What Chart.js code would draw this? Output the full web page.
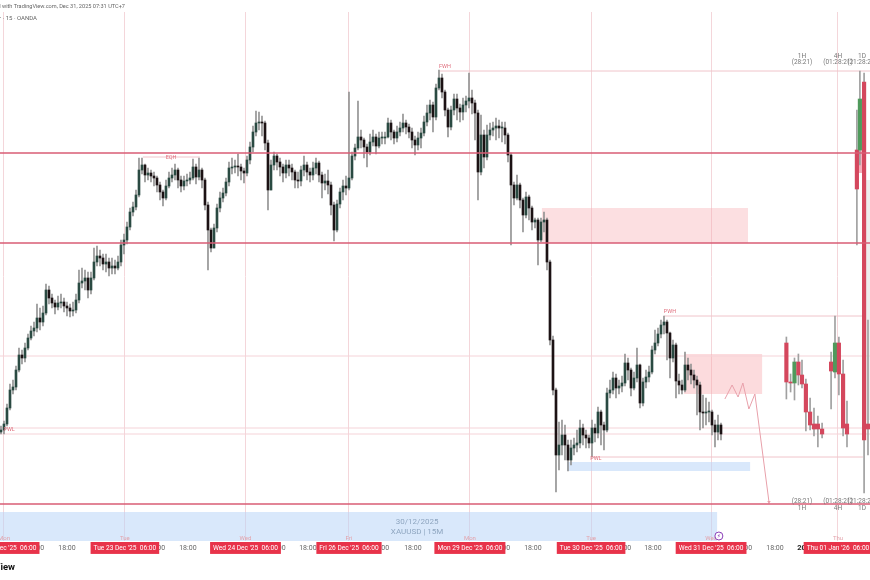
<!DOCTYPE html>
<html>
<head>
<meta charset="utf-8">
<title>XAUUSD 15M</title>
<script src="https://cdn.jsdelivr.net/npm/chart.js@4"></script>
<style>
  html, body { margin: 0; background: #fff; overflow: hidden; }
  #wrap { position: relative; width: 870px; height: 580px; overflow: hidden; font-family: Roboto, sans-serif; }
  #wrap canvas { filter: blur(0.45px); }
  .chrome { position: absolute; white-space: nowrap; color: #666; font-size: 5.6px; line-height: 10px; }
  #c1 { right: 745px; top: 1px; }
  #c2 { right: 833px; top: 13px; font-size: 6px; }
  #c3 { right: 855px; top: 560px; font-size: 9.5px; line-height: 14px; font-weight: 700; color: #111; }
</style>
</head>
<body>
<div id="wrap">
  <canvas id="chart" width="870" height="580"></canvas>
  <div class="chrome" id="c1">Created with TradingView.com, Dec 31, 2025 07:31 UTC+7</div>
  <div class="chrome" id="c2">Gold Spot / U.S. Dollar · 15 · OANDA</div>
  <div class="chrome" id="c3">TradingView</div>
</div>
<script>
// ── 15M candles, one slot per candle (open = previous close)
const closes = [
  4190,4196,4212,4230,4233,4250,4265,4262,4272,4282,4289,4292,4302,4298,4307,4330,4322,4317,4313,4317,
  4318,4314,4312,4309,4310,4320,4337,4339,4342,4330,4342,4358,4364,4362,4356,4358,4352,4354,4352,4358,
  4375,4380,4393,4408,4413,4425,4450,4455,4445,4447,4444,4442,4435,4428,4422,4434,4442,4445,4450,4440,
  4434,4439,4440,4442,4453,4443,4450,4440,4415,4390,4372,4392,4412,4422,4427,4438,4452,4453,4454,4453,
  4449,4447,4460,4473,4488,4497,4498,4497,4477,4430,4455,4464,4458,4453,4447,4455,4452,4448,4440,4439,
  4450,4455,4448,4445,4452,4457,4445,4437,4439,4435,4415,4390,4416,4428,4434,4432,4442,4464,4472,4483,
  4480,4473,4468,4478,4483,4474,4482,4482,4483,4497,4488,4482,4488,4492,4497,4493,4488,4480,4475,4482,
  4487,4498,4507,4515,4503,4532,4542,4528,4510,4493,4510,4521,4512,4508,4515,4519,4522,4517,4507,4448,
  4485,4463,4485,4490,4492,4494,4492,4492,4485,4465,4435,4422,4435,4420,4405,4423,4412,4398,4400,4380,
  4398,4400,4358,4280,4230,4165,4175,4185,4175,4160,4172,4175,4177,4192,4185,4182,4177,4192,4187,4208,
  4195,4190,4227,4230,4242,4232,4234,4237,4257,4250,4232,4242,4255,4217,4238,4243,4248,4270,4277,4286,
  4295,4298,4287,4262,4275,4239,4235,4230,4255,4250,4245,4240,4235,4208,4207,4208,4208,4195,4188,4195,
  4186
];
const highs = [
  4194,4199,4216,4236,4240,4254,4272,4270,4277,4286,4294,4298,4316,4312,4314,4336,4334,4326,4320,4324,
  4326,4322,4318,4316,4318,4326,4350,4352,4350,4348,4348,4372,4374,4370,4366,4366,4362,4362,4360,4364,
  4380,4386,4398,4412,4418,4430,4462,4462,4456,4452,4450,4448,4444,4438,4430,4440,4448,4452,4456,4452,
  4444,4444,4446,4448,4461,4456,4462,4452,4442,4418,4392,4396,4416,4428,4432,4442,4458,4462,4460,4466,
  4456,4452,4464,4478,4494,4509,4508,4504,4499,4480,4460,4468,4466,4462,4456,4460,4460,4456,4450,4448,
  4454,4464,4458,4452,4458,4462,4459,4448,4446,4450,4438,4418,4420,4432,4440,4444,4528,4468,4476,4519,
  4490,4482,4476,4486,4490,4486,4488,4488,4488,4502,4500,4490,4494,4498,4506,4500,4496,4492,4484,4488,
  4492,4504,4515,4520,4518,4536,4550,4546,4530,4512,4514,4526,4526,4516,4522,4524,4547,4530,4520,4510,
  4505,4490,4495,4497,4498,4502,4500,4498,4498,4487,4467,4438,4445,4437,4422,4428,4425,4414,4402,4402,
  4402,4408,4402,4360,4284,4232,4198,4200,4195,4180,4180,4182,4190,4200,4196,4190,4185,4200,4196,4213,
  4210,4198,4232,4240,4248,4246,4240,4244,4266,4262,4252,4248,4272,4256,4242,4250,4254,4274,4290,4292,
  4300,4304,4300,4288,4280,4277,4246,4240,4268,4262,4256,4250,4244,4238,4225,4222,4218,4210,4200,4205,
  4197
];
const lows = [
  4186,4186,4194,4210,4226,4230,4248,4256,4258,4270,4280,4284,4288,4290,4294,4305,4316,4312,4306,4310,
  4312,4308,4304,4303,4304,4307,4317,4332,4330,4322,4326,4340,4354,4354,4350,4348,4344,4346,4346,4350,
  4354,4366,4376,4390,4404,4410,4423,4446,4438,4440,4438,4434,4428,4420,4414,4420,4432,4438,4440,4432,
  4428,4430,4434,4436,4440,4436,4440,4432,4410,4350,4368,4372,4388,4408,4418,4424,4434,4446,4447,4444,
  4440,4437,4444,4456,4468,4484,4490,4484,4470,4410,4430,4450,4450,4444,4438,4442,4444,4440,4432,4432,
  4434,4444,4440,4438,4440,4446,4438,4422,4430,4426,4405,4379,4388,4412,4420,4425,4430,4440,4460,4470,
  4472,4462,4453,4465,4474,4466,4472,4476,4476,4482,4480,4476,4478,4484,4488,4486,4482,4472,4465,4470,
  4472,4484,4494,4500,4488,4500,4530,4522,4504,4483,4490,4505,4500,4498,4500,4508,4512,4506,4480,4420,
  4445,4452,4460,4480,4484,4480,4482,4478,4476,4458,4375,4415,4420,4412,4388,4402,4400,4390,4392,4355,
  4378,4388,4350,4275,4225,4128,4150,4165,4160,4149,4155,4165,4168,4172,4175,4172,4172,4163,4178,4182,
  4175,4170,4188,4222,4226,4222,4226,4228,4234,4240,4224,4230,4238,4212,4214,4232,4238,4246,4266,4274,
  4282,4286,4260,4242,4258,4222,4226,4226,4228,4240,4236,4232,4205,4190,4192,4195,4198,4185,4173,4180,
  4180
];

// ── 1H / 4H / 1D candles on the right
const htfSlots  = [261.8,263.2,264.5,265.8,267,268.3,269.7,271,272.3,273.7,276.7,278,279.3,280.7,282,285.3,286.3,287.7,289];
const htfOpens  = [4277,4238,4237,4258,4245,4236,4208,4196,4196,4191,4258,4248,4277,4246,4196,4470,4470,4538,4196];
const htfCloses = [4238,4237,4258,4245,4236,4208,4195,4191,4191,4186,4249,4277,4246,4192,4186,4431,4521,4180,4191];
const htfHighs  = [4283,4246,4262,4266,4260,4241,4222,4212,4204,4197,4268,4304,4283,4260,4219,4510,4549,4547,4300];
const htfLows   = [4221,4228,4220,4235,4232,4189,4190,4184,4173,4182,4211,4242,4225,4184,4173,4375,4455,4127,4165];

// ── levels
const strongLevels = [4467, 4377, 4116];
const thinLevels   = [4264, 4192, 4186];
const segStart  = [146.3, 221, 196.7, 47.3];
const segEnd    = [289.67, 287.3, 287.3, 66.3];
const segPrices = [4549, 4304, 4163, 4463];

// ── projected path
const pathSlots  = [241.3,243.7,245.7,247.3,249.3,251.3,256];
const pathPrices = [4221,4235,4223,4237,4211,4226,4118];

// ── zones
const zoneStart  = [-0.33, 188.7, 180.3, 227.7, 284.7, 288.3];
const zoneEnd    = [238.7, 249.7, 249, 253.7, 287, 289.67];
const zoneTop    = [4108, 4158, 4412, 4266, 4470, 4440];
const zoneBottom = [4079, 4149, 4377, 4226, 4447, 4200];
const zoneColors = ['rgba(186,214,247,.55)', 'rgba(186,214,247,.55)', 'rgba(248,170,175,.38)', 'rgba(248,170,175,.42)', 'rgba(240,120,140,.6)', '#eeeeee'];

// ── time axis (small labels first so the red boxes land on top of them)
const tickSlots = [11.5,51.8,92,126.5,166.8,207.2,247.5, 22,62.3,102.3,137.3,177.3,217.3,258, 268.3, 1,41.3,81.5,116,156.3,196.7,236.7,279];
const tickLabels = ['12:00','12:00','12:00','12:00','12:00','12:00','12:00',
  '18:00','18:00','18:00','18:00','18:00','18:00','18:00','2026',
  "Mon 22 Dec '25  06:00","Tue 23 Dec '25  06:00","Wed 24 Dec '25  06:00","Fri 26 Dec '25  06:00",
  "Mon 29 Dec '25  06:00","Tue 30 Dec '25  06:00","Wed 31 Dec '25  06:00","Thu 01 Jan '26  06:00"];
const sessionSlots = [1,41.3,81.5,116,156.3,196.7,236.7,279];
const dayNames = ['Mon','Tue','Wed','Fri','Mon','Tue','Wed','Thu'];

// ── text on the chart
const noteTexts  = ['FWH','EQH','PWH','PWL','PWL','1H','(28:21)','4H','(01:28:21)','1D','(21:28:21)','(28:21)','1H','(01:28:21)','4H','(21:28:21)','1D'];
const noteSlots  = [148,56.7,223,198.3,2.7,267,267,279,279,287,287,267,267,279,279,287,287];
const notePrices = [4553,4462,4308,4161,4190,4564,4558,4564,4558,4564,4558,4119,4112,4119,4112,4119,4112];
const noteKinds  = ['mark','mark','mark','mark','mark','timer','timer','timer','timer','timer','timer','timer','timer','timer','timer','timer','timer'];
const bandTexts  = ['30/12/2025','XAUUSD | 15M'];
const bandPrices = [4098, 4088];

const RED = '#d4475d', GREEN = '#4f9a5c', LEVEL = '#d95c74', THIN = '#f5d3d8';
const BOLD_TICK = 268.3;

const isSession = c => !!c.tick && sessionSlots.includes(c.tick.value);
const isYear = c => !!c.tick && c.tick.value === BOLD_TICK;

const candleBodies = closes.map((c, i) => ({ x: i, y: [i ? closes[i - 1] : c - 2, c] }));
const candleWicks  = closes.map((c, i) => ({ x: i, y: [lows[i], highs[i]] }));
const bodyColors   = candleBodies.map(b => b.y[1] >= b.y[0] ? '#2a4a42' : '#1c1214');

const htfBodies = htfSlots.map((x, i) => ({ x, y: [htfOpens[i], htfCloses[i]] }));
const htfWicks  = htfSlots.map((x, i) => ({ x, y: [htfLows[i], htfHighs[i]] }));
const htfColors = htfSlots.map((x, i) => htfCloses[i] > htfOpens[i] ? GREEN : RED);

const levelLine = (a, b, price, color, width, order) => ({
  type: 'line', data: [{ x: a, y: price }, { x: b, y: price }],
  borderColor: color, borderWidth: width, pointRadius: 0, order
});

const overlay = {
  id: 'overlay',
  beforeDatasetsDraw(chart) {
    const { ctx, scales: { x, y } } = chart;
    ctx.save();
    zoneStart.forEach((s, i) => {
      ctx.fillStyle = zoneColors[i];
      ctx.fillRect(x.getPixelForValue(s), y.getPixelForValue(zoneTop[i]),
        x.getPixelForValue(zoneEnd[i]) - x.getPixelForValue(s),
        y.getPixelForValue(zoneBottom[i]) - y.getPixelForValue(zoneTop[i]));
    });
    ctx.restore();
  },
  afterDraw(chart) {
    const { ctx, scales: { x, y } } = chart;
    ctx.save();
    ctx.textAlign = 'center';
    ctx.textBaseline = 'middle';

    noteTexts.forEach((t, i) => {
      const timer = noteKinds[i] === 'timer';
      ctx.font = timer ? '6.5px Roboto' : '5.5px Roboto';
      ctx.fillStyle = timer ? '#777' : '#e0707f';
      ctx.fillText(t, x.getPixelForValue(noteSlots[i]), y.getPixelForValue(notePrices[i]));
    });

    ctx.font = '8px Roboto';
    ctx.fillStyle = '#8fa6c0';
    bandTexts.forEach((t, i) => ctx.fillText(t, x.getPixelForValue(138.7), y.getPixelForValue(bandPrices[i])));

    ctx.font = '6px Roboto';
    ctx.fillStyle = '#e3a3ab';
    dayNames.forEach((d, i) => ctx.fillText(d, x.getPixelForValue(sessionSlots[i]), y.getPixelForValue(4082)));

    // replay icon at the last bar
    const ix = x.getPixelForValue(239.3), iy = y.getPixelForValue(4084);
    ctx.beginPath();
    ctx.arc(ix, iy, 4, 0, Math.PI * 2);
    ctx.fillStyle = '#fff';
    ctx.fill();
    ctx.strokeStyle = '#8b3fb8';
    ctx.lineWidth = 1;
    ctx.stroke();
    ctx.fillStyle = '#8b3fb8';
    ctx.font = '6px "DejaVu Sans"';
    ctx.fillText('⚡', ix, iy);
    ctx.restore();
  }
};

new Chart(document.getElementById('chart'), {
  type: 'bar',
  data: {
    datasets: [
      ...strongLevels.map(p => levelLine(-0.33, 289.67, p, LEVEL, 1.6, 1)),
      ...thinLevels.map(p => levelLine(-0.33, 289.67, p, THIN, 1, 6)),
      ...segPrices.map((p, i) => levelLine(segStart[i], segEnd[i], p, '#f0c4ca', 1, 6)),
      {
        type: 'line',
        data: pathSlots.map((x, i) => ({ x, y: pathPrices[i] })),
        borderColor: '#e8a0aa', borderWidth: 1, order: 2,
        pointRadius: pathSlots.map((x, i) => i === pathSlots.length - 1 ? 2 : 0),
        pointStyle: 'triangle', pointRotation: 180, pointBackgroundColor: '#e8a0aa', pointBorderWidth: 0
      },
      { data: candleBodies, backgroundColor: bodyColors, barThickness: 2, minBarLength: 1, grouped: false, order: 3 },
      { data: candleWicks, backgroundColor: '#949494', barThickness: 1, grouped: false, order: 4 },
      { data: htfBodies, backgroundColor: htfColors, barThickness: 3.5, minBarLength: 1, grouped: false, order: 3 },
      { data: htfWicks, backgroundColor: '#a0a0a0', barThickness: 1, grouped: false, order: 4 }
    ]
  },
  options: {
    responsive: false,
    animation: false,
    layout: { autoPadding: false, padding: { top: 12, left: 0, right: 0, bottom: 0 } },
    plugins: { legend: { display: false }, tooltip: { enabled: false } },
    scales: {
      x: {
        type: 'linear',
        min: -0.33,
        max: 289.67,
        offset: false,
        border: { display: false },
        afterBuildTicks: s => { s.ticks = tickSlots.map(v => ({ value: v })); },
        afterFit: s => { s.height = 39; s.paddingLeft = 0; s.paddingRight = 0; },
        grid: {
          offset: false,
          drawTicks: false,
          tickLength: 0,
          color: c => isSession(c) ? '#f4d6da' : 'transparent'
        },
        ticks: {
          autoSkip: false,
          maxRotation: 0,
          minRotation: 0,
          padding: 3,
          callback: (v, i) => tickLabels[i],
          color: c => isSession(c) ? '#fff' : isYear(c) ? '#222' : '#666',
          font: c => ({ family: 'Roboto', size: isYear(c) ? 7.5 : isSession(c) ? 6.6 : 7, weight: isYear(c) ? 'bold' : 'normal' }),
          showLabelBackdrop: isSession,
          backdropColor: '#e8334a',
          backdropPadding: { x: 3, y: 2 }
        }
      },
      y: { display: false, min: 4079, max: 4608, grid: { display: false } }
    }
  },
  plugins: [overlay]
});
</script>
</body>
</html>
